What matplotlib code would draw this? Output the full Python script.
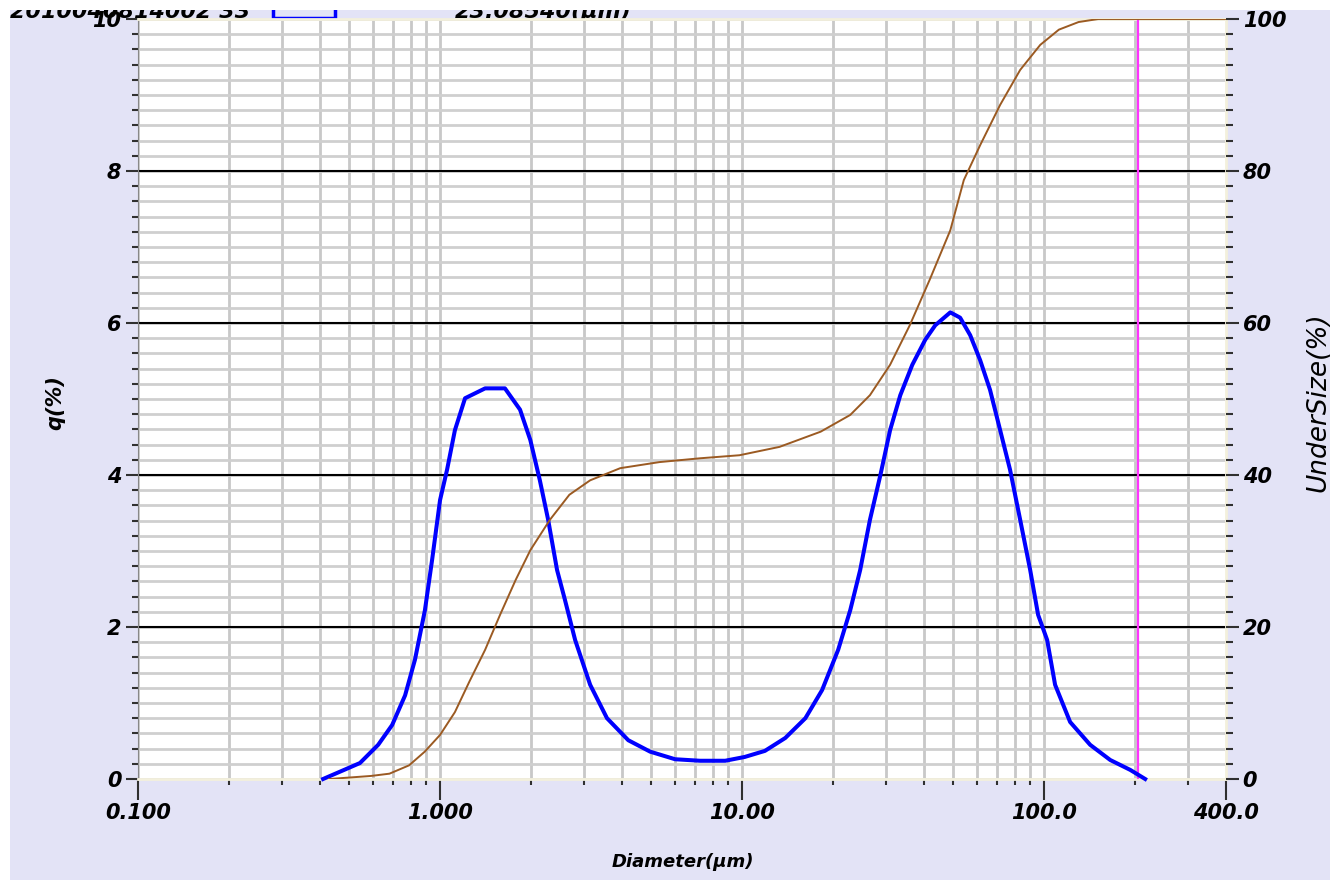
import matplotlib.pyplot as plt
import matplotlib.patches as patches
from matplotlib.ticker import FixedLocator, NullFormatter, MultipleLocator

# q(%) frequency curve
q_diam = [0.41, 0.543, 0.624, 0.694, 0.766, 0.826, 0.891, 0.941, 1.0, 1.055,
          1.12, 1.21, 1.41, 1.64, 1.84, 1.99, 2.14, 2.28, 2.44, 2.59,
          2.80, 3.14, 3.57, 4.20, 4.96, 6.00, 7.26, 8.79, 10.2, 11.9,
          13.9, 16.2, 18.4, 20.8, 22.8, 24.6, 26.5, 28.7, 30.9, 33.4,
          36.6, 40.4, 43.6, 48.9, 52.7, 56.9, 61.4, 66.2, 71.5, 77.1,
          83.3, 89.9, 95.5, 102.3, 108.7, 121.9, 142.0, 165.5, 192.7, 216.0]
q_vals = [0.0, 0.21, 0.45, 0.71, 1.10, 1.57, 2.22, 2.88, 3.67, 4.07,
          4.59, 5.01, 5.14, 5.14, 4.86, 4.46, 3.93, 3.41, 2.75, 2.36,
          1.83, 1.24, 0.80, 0.51, 0.36, 0.26, 0.24, 0.24, 0.29, 0.37,
          0.54, 0.80, 1.17, 1.70, 2.22, 2.75, 3.41, 4.00, 4.59, 5.05,
          5.45, 5.78, 5.97, 6.14, 6.07, 5.84, 5.51, 5.12, 4.59, 4.07,
          3.41, 2.75, 2.16, 1.83, 1.24, 0.75, 0.45, 0.25, 0.12, 0.0]

# cumulative undersize curve
u_diam = [0.43, 0.59, 0.68, 0.79, 0.89, 1.0, 1.12, 1.25, 1.41, 1.58,
          1.78, 1.99, 2.31, 2.68, 3.14, 3.95, 5.33, 7.26, 9.8, 13.3,
          18.2, 22.8, 26.5, 30.9, 35.9, 41.8, 48.9, 54.2, 61.4, 71.5,
          83.3, 97.1, 111.9, 130.0, 151.0, 400.0]
u_vals = [0.0, 0.4, 0.7, 1.8, 3.6, 5.8, 8.8, 12.8, 17.0, 21.6,
          26.2, 30.1, 34.1, 37.4, 39.3, 40.9, 41.7, 42.2, 42.6, 43.7,
          45.7, 47.9, 50.5, 54.5, 59.7, 65.7, 72.2, 78.8, 83.4, 88.7,
          93.3, 96.6, 98.6, 99.6, 100.0, 100.0]

x_ticks = [0.1, 1.0, 10.0, 100.0, 400.0]
x_labels = ['0.100', '1.000', '10.00', '100.0', '400.0']
cursor_d = 204.0
sample_id = '2010040814002 33'
cursor_text = '23.08540(µm)'

bg = '#E3E3F6'
font = dict(family='DejaVu Sans', weight='bold', style='italic')
W, H = 1337, 882

fig = plt.figure(figsize=(13.37, 8.82), dpi=100, facecolor='white')
# lavender panel with a thin white margin round it
fig.add_artist(patches.Rectangle((10 / W, 2 / H), 1320 / W, 870 / H,
                                 transform=fig.transFigure, facecolor=bg,
                                 edgecolor='none', zorder=-10))

ax = fig.add_axes([138 / W, 1 - 779 / H, 1088 / W, 760 / H])
ax.set_facecolor('white')
ax.set_xscale('log')
ax.set_xlim(0.1, 400)
ax.set_ylim(0, 10)

# grid
minors = [m * 10.0 ** e for e in range(-1, 3) for m in range(2, 10) if m * 10.0 ** e < 400]
ax.xaxis.set_major_locator(FixedLocator(x_ticks))
ax.xaxis.set_minor_locator(FixedLocator(minors))
ax.set_xticklabels(x_labels)
ax.xaxis.set_minor_formatter(NullFormatter())
ax.yaxis.set_major_locator(MultipleLocator(2))
ax.yaxis.set_minor_locator(MultipleLocator(0.2))
for v in [0.1, 1, 10, 100] + minors:
    ax.axvline(v, color='#C8C8C8', lw=2, zorder=0)
for i in range(51):
    ax.axhline(i * 0.2, color='#CFCFCF', lw=2, zorder=0)
for v in [2, 4, 6, 8, 10]:
    ax.axhline(v, color='black', lw=1.5, zorder=1)

ax.axvline(cursor_d, color='#FF33FF', lw=1.6, zorder=4)
ax.plot(q_diam, q_vals, color='#0000FF', lw=2.9, zorder=5, clip_on=False)

ax.tick_params(axis='both', which='major', direction='out', length=9,
               width=1.5, color='#303030', labelsize=15, pad=3)
ax.tick_params(axis='both', which='minor', direction='out', length=4,
               width=1.5, color='#303030')
ax.tick_params(axis='x', which='major', length=15, pad=2)
for lab in ax.get_xticklabels() + ax.get_yticklabels():
    lab.set_fontweight('bold')
    lab.set_fontstyle('italic')
for s in ['top', 'right', 'bottom']:
    ax.spines[s].set_color('#F3F0DC')
    ax.spines[s].set_linewidth(2)
ax.spines['left'].set_color('#888888')

ax2 = ax.twinx()
ax2.set_ylim(0, 100)
ax2.yaxis.set_major_locator(MultipleLocator(20))
ax2.yaxis.set_minor_locator(MultipleLocator(2))
ax2.plot(u_diam, u_vals, color='#9B5A22', lw=1.4, zorder=3)
ax2.tick_params(axis='y', which='major', direction='out', length=9,
                width=1.5, color='#303030', labelsize=15, pad=3)
ax2.tick_params(axis='y', which='minor', direction='out', length=5,
                width=1.5, color='#303030')
for lab in ax2.get_yticklabels():
    lab.set_fontweight('bold')
    lab.set_fontstyle('italic')
for s in ax2.spines.values():
    s.set_visible(False)

fig.text(55 / W, 1 - 403 / H, 'q(%)', rotation=90, ha='center', va='center',
         fontsize=15, **font)
fig.text(1318 / W, 1 - 402 / H, 'UnderSize(%)', rotation=90, ha='center',
         va='center', fontsize=19, style='italic', family='DejaVu Sans')
fig.text(683 / W, 1 - 862 / H, 'Diameter(µm)', ha='center', va='center',
         fontsize=13, **font)

# header strip: only its lower part shows, the rest is cut off at the top
hax = fig.add_axes([0, 1 - 30 / H, 1, 20 / H], zorder=-5)
hax.set_xlim(0, W)
hax.set_ylim(30, 10)
hax.axis('off')
hax.text(10, 18, sample_id, ha='left', va='baseline', fontsize=16, clip_on=True, **font)
hax.text(455, 18, cursor_text, ha='left', va='baseline', fontsize=16, clip_on=True, **font)
hax.add_patch(patches.Rectangle((273, -10), 62, 28, fill=False,
                                edgecolor='#0000FF', lw=2.5, clip_on=True))

fig.savefig('out.png', dpi=100, facecolor='white')
